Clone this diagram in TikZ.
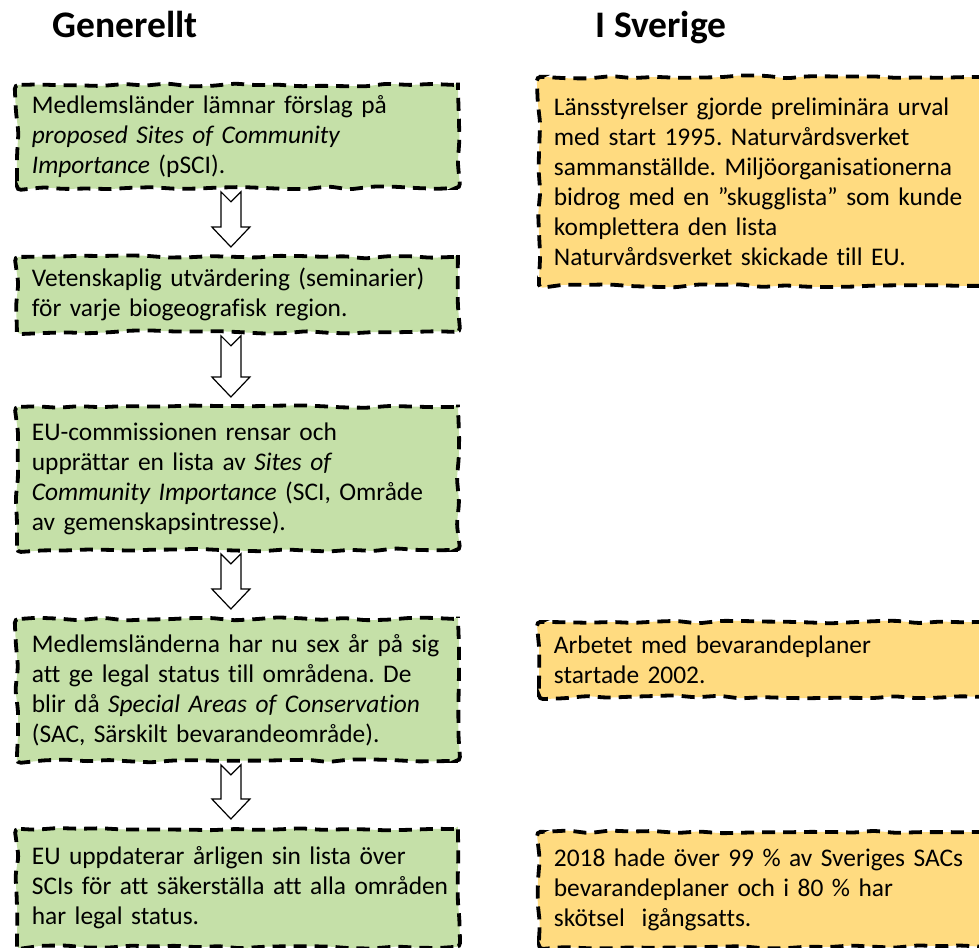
\documentclass[tikz,border=0pt]{standalone}
\usepackage{fontspec}
\setmainfont{Carlito}[Ligatures=NoCommon]
\usepackage{xcolor}
\usetikzlibrary{calc, decorations.pathmorphing}

\definecolor{boxgreen}{HTML}{C5E0A8}
\definecolor{boxyellow}{HTML}{FFDB80}

\tikzset{
  wavybox/.style={draw=black, line width=3.8pt, dash pattern=on 13pt off 8pt,
    decorate, decoration={random steps, segment length=22pt, amplitude=1.6pt},
    rounded corners=4pt, anchor=north west, inner xsep=15pt, inner ysep=0pt,
    align=left, font=\fontsize{25.4}{30}\selectfont\frenchspacing},
  genbox/.style={wavybox, fill=boxgreen, text width=411pt, minimum width=441pt},
  svbox/.style={wavybox, fill=boxyellow, text width=420pt, minimum width=450pt},
  heading/.style={anchor=base, font=\fontsize{37.5}{42}\selectfont\bfseries},
  hollow/.style={draw=black, line width=1.2pt, fill=white, line join=miter}
}

% hollow block arrow with notched tail, from one box down to the next
\newcommand{\hollowarrow}[2]{%
  \draw[hollow] let \p1=($(#1.south)+(-6.5,0)$), \p2=(#2.north) in
    (\x1-10pt,\y1-2pt) -- (\x1,\y1-12pt) -- (\x1+10pt,\y1-2pt)
    -- (\x1+10pt,\y2+28pt) -- (\x1+19pt,\y2+28pt) -- (\x1,\y2+8pt)
    -- (\x1-19pt,\y2+28pt) -- (\x1-10pt,\y2+28pt) -- cycle;}

\begin{document}
\begin{tikzpicture}[x=1pt, y=-1pt]
    \pgfmathsetseed{42}
    \useasboundingbox (0,0) rectangle (979,947);

    % rubriker
    \node[heading] (gen) at (125,38) {Generellt};
    \node[heading] (sve) at (661,38) {I Sverige};

    % generellt
    \node[genbox, minimum height=103pt] (b1) at (15,83)
      {Medlemsländer lämnar förslag på\\ \textit{proposed Sites of Community}\\ \textit{Importance} (pSCI).};
    \node[genbox, minimum height=75pt] (b2) at (15,255)
      {Vetenskaplig utvärdering (seminarier)\\ för varje biogeografisk region.};
    \node[genbox, minimum height=143pt] (b3) at (15,405)
      {EU-commissionen rensar och\\ upprättar en lista av \textit{Sites of}\\ \textit{Community Importance} (SCI, Område\\ av gemenskapsintresse).};
    \node[genbox, minimum height=142pt] (b4) at (15,617)
      {Medlemsländerna har nu sex år på sig\\ att ge legal status till områdena. De\\ blir då \textit{Special Areas of Conservation}\\ (SAC, Särskilt bevarandeområde).};
    \node[genbox, minimum height=118pt] (b5) at (15,827)
      {EU uppdaterar årligen sin lista över\\ \mbox{SCIs för att säkerställa att alla områden}\\ har legal status.};

    % i Sverige
    \node[svbox, minimum height=209pt] (s1) at (537,75)
      {Länsstyrelser gjorde preliminära urval\\ med start 1995. Naturvårdsverket\\ sammanställde. Miljöorganisationerna\\ bidrog med en ”skugglista” som kunde\\ komplettera den lista\\ Naturvårdsverket skickade till EU.};
    \node[svbox, minimum height=75pt] (s2) at (537,620)
      {Arbetet med bevarandeplaner\\ startade 2002.};
    \node[svbox, minimum height=115pt] (s3) at (537,830)
      {2018 hade över 99 \% av Sveriges SACs\\ bevarandeplaner och i 80 \% har\\ skötsel\ \ igångsatts.};

    % pilar
    \hollowarrow{b1}{b2}
    \hollowarrow{b2}{b3}
    \hollowarrow{b3}{b4}
    \hollowarrow{b4}{b5}
\end{tikzpicture}
\end{document}
